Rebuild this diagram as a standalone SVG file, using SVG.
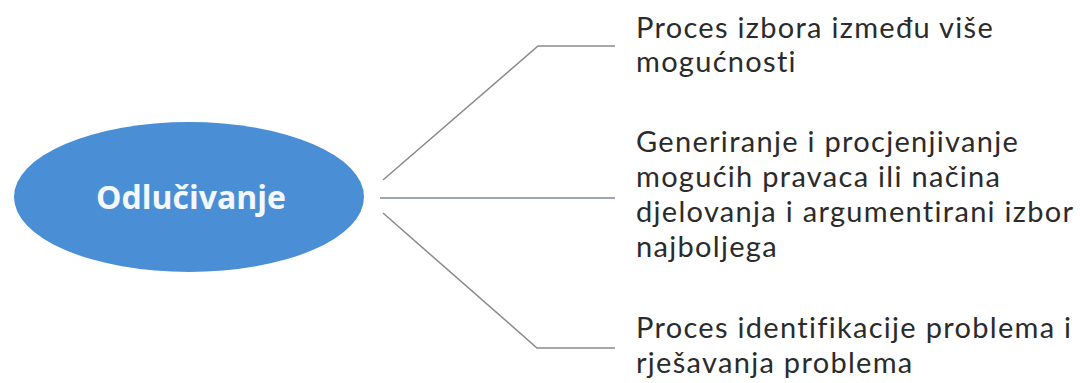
<svg xmlns="http://www.w3.org/2000/svg" width="1080" height="383" viewBox="0 0 1080 383">
<style>
.lbl{font-family:Lato,"Open Sans",sans-serif;font-size:29px;letter-spacing:1.3px;fill:#2b2b2b}
.conn{fill:none;stroke:#8a8a8a;stroke-width:1.5}
</style>
<rect width="1080" height="383" fill="#ffffff"/>
<g id="connectors">
<polyline class="conn" points="383,180 538,46 615,46"/>
<line class="conn" x1="380" y1="198" x2="615" y2="198" style="stroke:#7d8699"/>
<polyline class="conn" points="383,213 537,348 615,348"/>
</g>
<g id="node-center">
<ellipse cx="189" cy="197" rx="175" ry="75" fill="#4a8fd6"/>
<text x="191" y="209" text-anchor="middle" style="font-family:'Open Sans','Noto Sans',sans-serif;font-size:32px;font-weight:bold;fill:#f4f8fc">Odlučivanje</text>
</g>
<g id="node-1">
<text class="lbl" x="636" y="38">Proces izbora između više</text>
<text class="lbl" x="636" y="72">mogućnosti</text>
</g>
<g id="node-2">
<text class="lbl" x="636" y="152">Generiranje i procjenjivanje</text>
<text class="lbl" x="636" y="187">mogućih pravaca ili načina</text>
<text class="lbl" x="636" y="222">djelovanja i argumentirani izbor</text>
<text class="lbl" x="636" y="257">najboljega</text>
</g>
<g id="node-3">
<text class="lbl" x="636" y="338">Proces identifikacije problema i</text>
<text class="lbl" x="636" y="373">rješavanja problema</text>
</g>
</svg>
